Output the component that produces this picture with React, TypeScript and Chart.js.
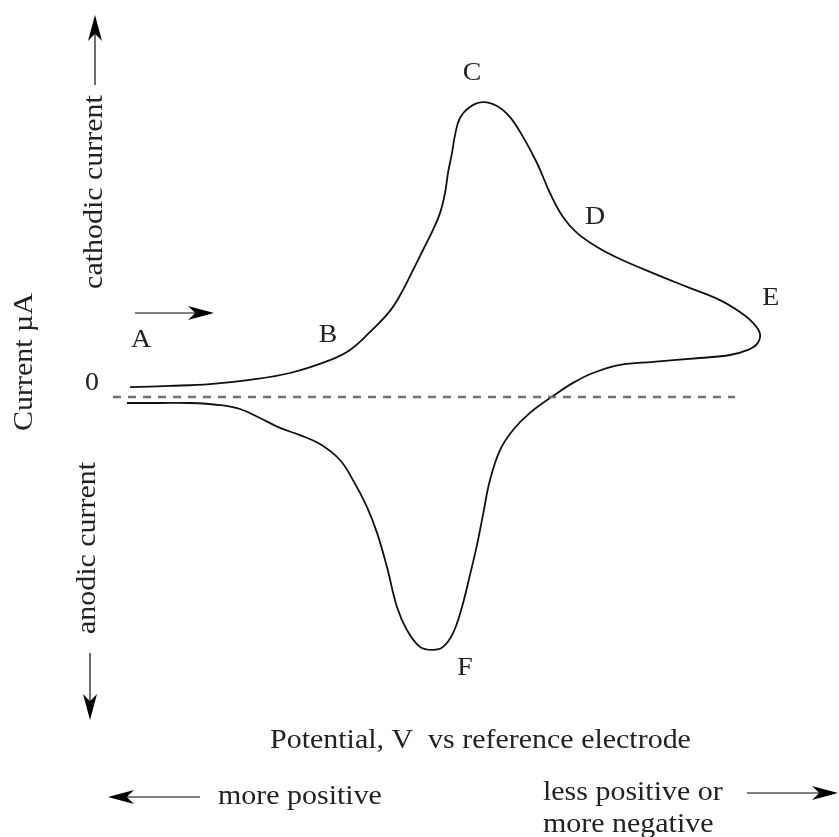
import React, { useEffect, useRef } from "react";
import { Chart, registerables } from "chart.js";

Chart.register(...registerables);

// Cyclic voltammogram sweep (arbitrary potential units, current in µA, 0 = baseline)
const cvPotential = [
  2.62, 8.77, 14.92, 21.08, 27.23, 33.38, 36.46, 39.54, 42.62, 44.62, 46.15, 47.69, 49.23, 50.31,
  51.08, 51.54, 52.15, 52.62, 53.38, 54.92, 56.92, 59.08, 61.08, 63.08, 65.23, 67.23, 69.23, 71.38,
  74.46, 78.0, 83.08, 88.31, 93.38, 96.46, 98.46, 99.54, 99.08, 97.69, 94.92, 90.31, 83.08, 78.0,
  73.85, 70.77, 67.69, 64.15, 61.54, 59.54, 58.0, 56.92, 56.0, 54.92, 53.69, 52.31, 50.77, 49.23,
  47.23, 45.23, 43.69, 42.15, 40.62, 39.08, 36.92, 34.92, 31.85, 28.77, 25.69, 22.62, 19.54, 16.46,
  11.85, 7.23, 2.15,
];
const cvCurrent = [
  0.33, 0.37, 0.43, 0.57, 0.8, 1.23, 1.57, 2.17, 2.87, 3.57, 4.23, 4.9, 5.57, 6.13,
  6.8, 7.47, 8.13, 8.73, 9.3, 9.67, 9.83, 9.7, 9.33, 8.67, 7.8, 6.8, 6.0, 5.47,
  5.0, 4.6, 4.13, 3.67, 3.23, 2.83, 2.47, 2.1, 1.77, 1.57, 1.4, 1.3, 1.17, 1.07,
  0.8, 0.47, 0.03, -0.53, -1.1, -1.77, -2.77, -3.93, -4.93, -5.93, -7.0, -7.87, -8.33, -8.43,
  -8.33, -7.77, -7.0, -5.67, -4.53, -3.67, -2.77, -2.1, -1.57, -1.27, -1.03, -0.7, -0.4, -0.27,
  -0.2, -0.2, -0.2,
];

// Zero-current baseline
const baselinePotential = [0, 95.7];
const baselineCurrent = [0, 0];

// Point labels on the curve
const pointLabels = ["A", "B", "C", "D", "E", "F"];
const labelPotential = [4.31, 33.08, 55.23, 74.15, 101.2, 54.15];
const labelCurrent = [1.9, 2.07, 10.8, 6.0, 3.3, -9.03];

const zeroTickLabel = "0";
const yAxisTitle = "Current µA";
const xAxisTitle = "Potential, V  vs reference electrode";
const cathodicText = "cathodic current";
const anodicText = "anodic current";
const leftDirText = "more positive";
const rightDirText = ["less positive or", "more negative"];

const FONT = '"Liberation Serif", "DejaVu Serif", serif';
const TEXT_COLOR = "#222";
const STRETCH = 1.07;

function arrowHead(ctx: CanvasRenderingContext2D, tipX: number, tipY: number, dx: number, dy: number, len: number, half: number) {
  const bx = tipX - dx * len;
  const by = tipY - dy * len;
  const nx = -dy;
  const ny = dx;
  const notchX = tipX - dx * len * 0.72;
  const notchY = tipY - dy * len * 0.72;
  ctx.beginPath();
  ctx.moveTo(tipX, tipY);
  ctx.lineTo(bx + nx * half, by + ny * half);
  ctx.lineTo(notchX, notchY);
  ctx.lineTo(bx - nx * half, by - ny * half);
  ctx.closePath();
  ctx.fillStyle = "#000";
  ctx.fill();
}

function arrow(ctx: CanvasRenderingContext2D, x1: number, y1: number, x2: number, y2: number) {
  const L = Math.hypot(x2 - x1, y2 - y1);
  const dx = (x2 - x1) / L;
  const dy = (y2 - y1) / L;
  ctx.save();
  ctx.strokeStyle = "#555";
  ctx.lineWidth = 1.7;
  ctx.beginPath();
  ctx.moveTo(x1, y1);
  ctx.lineTo(x2 - dx * 12, y2 - dy * 12);
  ctx.stroke();
  arrowHead(ctx, x2, y2, dx, dy, 26, 7);
  ctx.restore();
}

function stretchedText(ctx: CanvasRenderingContext2D, text: string, x: number, y: number, size: number, align: CanvasTextAlign, rotate = false) {
  ctx.save();
  ctx.translate(x, y);
  if (rotate) ctx.rotate(-Math.PI / 2);
  ctx.scale(STRETCH, 1);
  ctx.font = `${size}px ${FONT}`;
  ctx.textAlign = align;
  ctx.textBaseline = "middle";
  ctx.fillStyle = TEXT_COLOR;
  ctx.fillText(text, 0, 0);
  ctx.restore();
}

const annotationPlugin = {
  id: "cvAnnotations",
  afterDraw(chart: any) {
    const ctx: CanvasRenderingContext2D = chart.ctx;
    const xs = chart.scales.x;
    const ys = chart.scales.y;
    pointLabels.forEach((t, i) => {
      stretchedText(ctx, t, xs.getPixelForValue(labelPotential[i]), ys.getPixelForValue(labelCurrent[i]), 26, "center");
    });
    stretchedText(ctx, zeroTickLabel, xs.getPixelForValue(-3.23), ys.getPixelForValue(0.47), 26, "center");

    stretchedText(ctx, xAxisTitle, 270, 741, 28, "left");
    stretchedText(ctx, leftDirText, 218, 797, 28, "left");
    stretchedText(ctx, rightDirText[0], 543, 793, 28, "left");
    stretchedText(ctx, rightDirText[1], 543, 825, 28, "left");

    stretchedText(ctx, cathodicText, 95, 192, 28, "center", true);
    stretchedText(ctx, anodicText, 88, 548, 28, "center", true);
    stretchedText(ctx, yAxisTitle, 25, 362, 28, "center", true);

    arrow(ctx, 95, 85, 95, 15);
    arrow(ctx, 90, 653, 90, 720);
    arrow(ctx, 135, 313, 214, 313);
    arrow(ctx, 200, 797, 108, 797);
    arrow(ctx, 747, 793, 838, 793);
  },
};

export default function App() {
  const canvasRef = useRef<HTMLCanvasElement | null>(null);

  useEffect(() => {
    if (!canvasRef.current) return;
    const chart = new Chart(canvasRef.current, {
      type: "scatter",
      data: {
        datasets: [
          {
            label: "baseline",
            data: baselinePotential.map((x, i) => ({ x, y: baselineCurrent[i] })),
            showLine: true,
            borderColor: "#707070",
            borderWidth: 2.5,
            borderDash: [8, 7],
            pointRadius: 0,
            tension: 0,
          },
          {
            label: "CV",
            data: cvPotential.map((x, i) => ({ x, y: cvCurrent[i] })),
            showLine: true,
            borderColor: "#111",
            borderWidth: 1.8,
            pointRadius: 0,
            tension: 0.4,
          },
        ],
      },
      options: {
        responsive: false,
        animation: false,
        layout: { padding: { left: 113, right: 76, top: 67, bottom: 140 } },
        plugins: { legend: { display: false }, tooltip: { enabled: false } },
        scales: {
          x: { type: "linear", display: false, min: 0, max: 100 },
          y: { type: "linear", display: false, min: -10, max: 11 },
        },
      },
      plugins: [annotationPlugin],
    });
    return () => chart.destroy();
  }, []);

  return (
    <div style={{ position: "absolute", left: 0, top: 0, width: 839, height: 837, background: "#fff" }}>
      <canvas ref={canvasRef} width={839} height={837} />
    </div>
  );
}
